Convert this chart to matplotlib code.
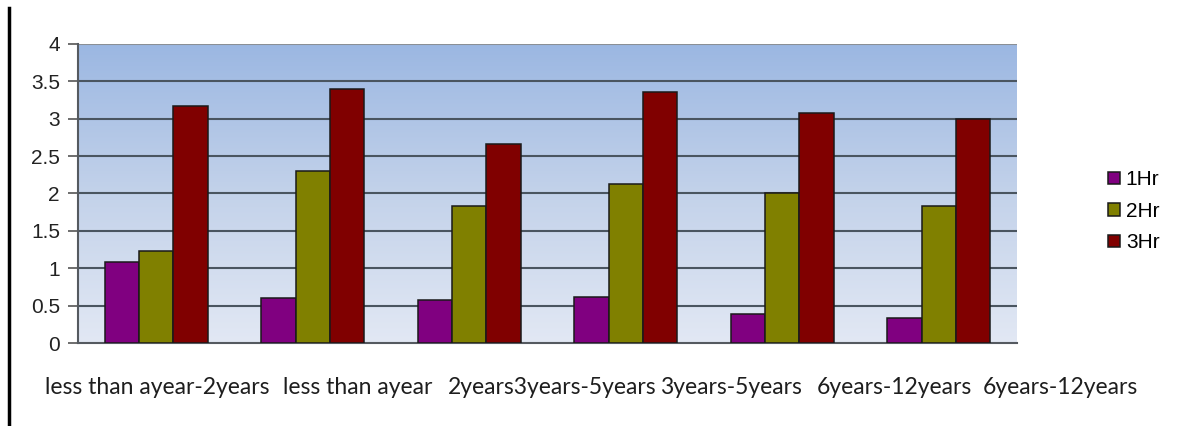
import numpy as np
import matplotlib.pyplot as plt
from matplotlib.colors import LinearSegmentedColormap

groups = ["less than ayear-2years", "less than ayear", "2years3years-5years",
          "3years-5years", "6years-12years", "6years-12years"]
series = ["1Hr", "2Hr", "3Hr"]
hr1 = [1.08, 0.60, 0.575, 0.62, 0.39, 0.33]
hr2 = [1.23, 2.30, 1.83, 2.13, 2.01, 1.83]
hr3 = [3.17, 3.40, 2.66, 3.36, 3.08, 3.00]
colors = ["#800080", "#808000", "#800000"]

# left edge (pixels) of each category label under the chart
label_x = [45, 283, 448, 660, 817, 983]

fig = plt.figure(figsize=(12, 4.26), dpi=100)
ax = fig.add_axes([0.065, 0.1948, 0.7825, 0.702])

# background gradient, blue at top fading to pale at the bottom
grad = np.linspace(0, 1, 256).reshape(-1, 1)
cmap = LinearSegmentedColormap.from_list("bg", ["#e2e8f4", "#c3d2ea", "#9bb7e2"])
ax.imshow(grad, aspect="auto", cmap=cmap, origin="lower",
          extent=[0, 1, 0, 1], transform=ax.transAxes, zorder=0)

x = np.arange(len(groups))
w = 0.22
for i, (vals, name) in enumerate(zip([hr1, hr2, hr3], series)):
    ax.bar(x + (i - 1) * w, vals, w, color=colors[i], edgecolor="#1a1a1a",
           linewidth=1.1, label=name, zorder=3)

ax.set_xlim(-0.5, len(groups) - 0.5)
ax.set_ylim(0, 4)
ax.set_yticks(np.arange(0, 4.01, 0.5))
ax.set_yticklabels(["0", "0.5", "1", "1.5", "2", "2.5", "3", "3.5", "4"],
                   family="Liberation Sans", fontsize=15, color="#222222")
ax.tick_params(axis="y", length=7, width=1.2, color="#555555", pad=6)
ax.set_xticks([])
for y in np.arange(0.5, 3.6, 0.5):
    ax.axhline(y, color="#4a5560", linewidth=1.5, zorder=1)
ax.axhline(4, color="#8a8f95", linewidth=1.5, zorder=1)

for s in ["top", "right"]:
    ax.spines[s].set_visible(False)
ax.spines["left"].set_color("#555a60")
ax.spines["left"].set_linewidth(1.5)
ax.spines["bottom"].set_color("#555a60")
ax.spines["bottom"].set_linewidth(1.5)

for lx, txt in zip(label_x, groups):
    fig.text(lx / 1200, 1 - 388 / 426, txt, ha="left", va="center",
             family="Lato", fontsize=16.5, color="#1e1e1e")

ax.legend(loc="center left", bbox_to_anchor=(1.077, 0.44), frameon=False,
          prop={"family": "Liberation Sans", "size": 15},
          handlelength=0.55, handleheight=0.55, handletextpad=0.3,
          labelspacing=0.6)

# page border at the left edge
fig.add_artist(plt.Line2D([9 / 1200, 9 / 1200], [0, 1 - 8 / 426],
                          color="black", linewidth=2.5))

fig.savefig("out.png", dpi=100)
